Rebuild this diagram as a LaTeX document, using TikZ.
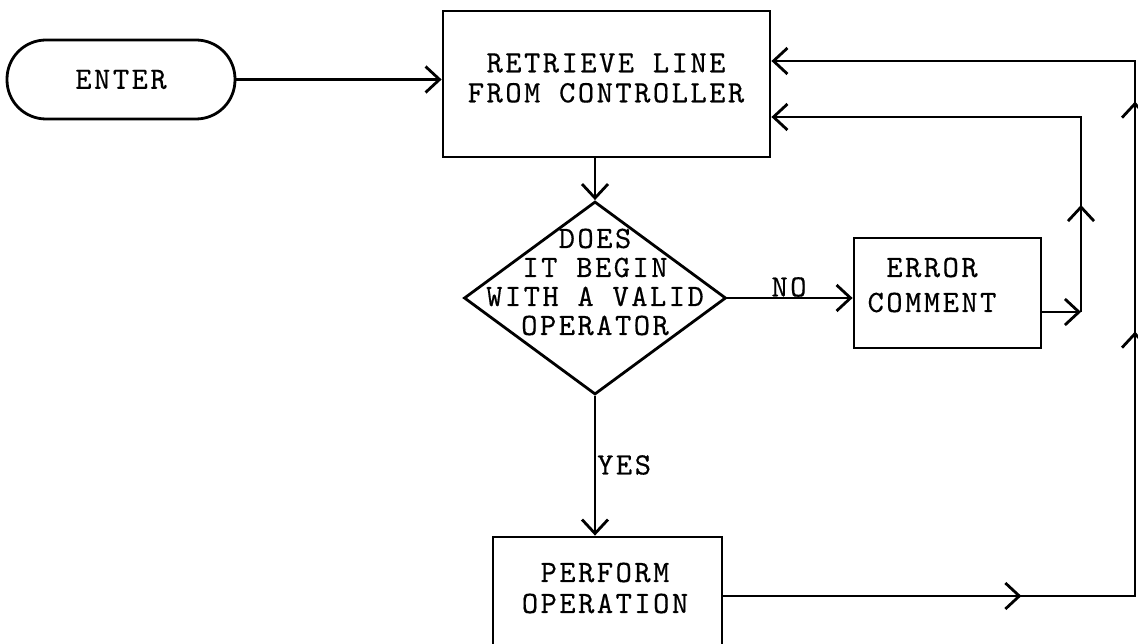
\documentclass[tikz,border=0pt]{standalone}
\usepackage{fontspec}
\newfontfamily\tw{lmmono10-regular}[Extension=.otf,LetterSpace=8,FakeBold=0.4]
\usetikzlibrary{arrows.meta,shapes.geometric,decorations.markings}
\tikzset{
  tipA/.tip={Straight Barb[length=14pt,width=26pt,line width=2.8pt]},
  box/.style={draw, line width=2.8pt, inner sep=0pt},
  term/.style={box, rounded corners=39pt, minimum width=228pt, minimum height=79pt,
    font=\tw\fontsize{31}{31}\selectfont},
  decision/.style={draw, diamond, line width=2.8pt, inner sep=0pt,
    minimum width=262pt, minimum height=193pt},
  txt/.style={inner sep=0pt, align=center, font=\tw\fontsize{31}{#1}\selectfont},
  txt/.default=30,
  lbl/.style={inner sep=0pt, font=\tw\fontsize{31}{31}\selectfont},
  conn/.style={draw, line width=2.3pt},
}
\begin{document}
\begin{tikzpicture}[x=1pt,y=-1pt]
\useasboundingbox (0,0) rectangle (1138,644);
\clip (0,0) rectangle (1138,644);
\fill[white] (0,0) rectangle (1138,644);

\node[term] (enter) at (121,79.5) {ENTER};
\node[box, minimum width=327pt, minimum height=146pt] (ret) at (606.5,84) {};
\node[txt=30] (rettxt) at (606,78) {RETRIEVE LINE\\FROM CONTROLLER};
\node[decision] (dia) at (595,298) {};
\node[txt=29] (dtxt) at (595,282) {DOES\\IT BEGIN\\WITH A VALID\\OPERATOR};
\node[box, minimum width=187pt, minimum height=110pt] (err) at (947.5,293) {};
\node[txt=35] (errtxt) at (932,285) {ERROR\\COMMENT};
\node[box, minimum width=229pt, minimum height=118pt] (perf) at (607.5,596) {};
\node[txt=31] (perftxt) at (605,588) {PERFORM\\OPERATION};

\node[lbl] (no) at (789,287) {NO};
\node[lbl, anchor=west] (yes) at (597,465) {YES};

\coordinate (e1) at (1081,312);
\coordinate (e2) at (1081,117);
\coordinate (c1) at (1135,596);
\coordinate (c2) at (1135,61);

\draw[conn,-{tipA}] (enter.east) -- (enter.east -| ret.west);
\draw[conn,-{tipA}] (dia.north |- ret.south) -- (dia.north);
\draw[conn,-{tipA}] (dia.east) -- (dia.east -| err.west);
\draw[conn,-{tipA}] (dia.south) -- (dia.south |- perf.north);
\draw[conn,-{tipA}] (err.east |- e1) -- (e1);
\draw[conn,-{tipA}, postaction={decorate},
  decoration={markings, mark=at position 107pt with {\arrow{tipA}}}]
  (e1) -- (e2) -- (e2 -| ret.east);
\draw[conn,-{tipA}, postaction={decorate},
  decoration={markings,
    mark=at position 298pt with {\arrow{tipA}},
    mark=at position 676pt with {\arrow{tipA}},
    mark=at position 906pt with {\arrow{tipA}}}]
  (perf.east |- c1) -- (c1) -- (c2) -- (c2 -| ret.east);
\end{tikzpicture}
\end{document}
